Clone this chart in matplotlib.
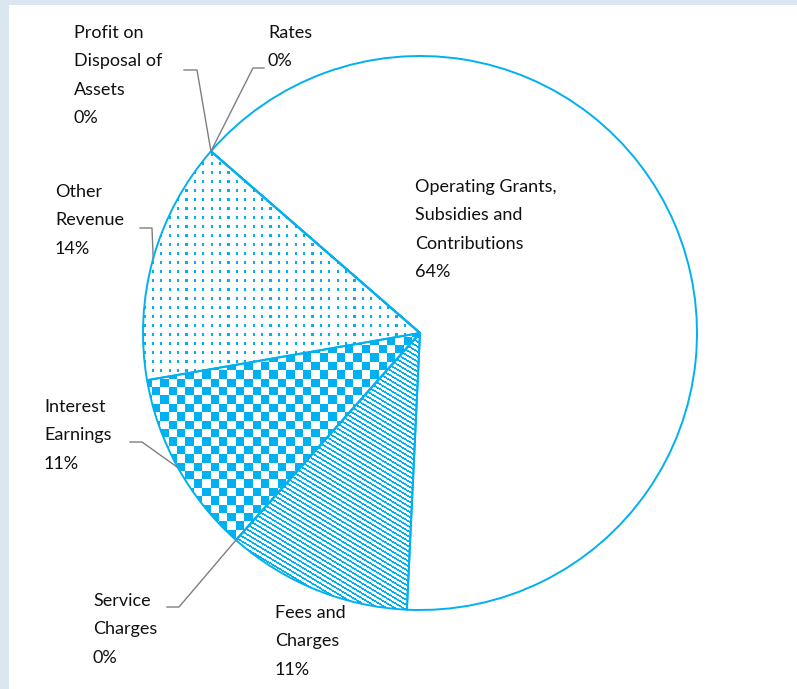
import numpy as np
import matplotlib
matplotlib.use('Agg')
import matplotlib.pyplot as plt
from matplotlib.patches import Rectangle

W, H = 797, 689
BLUE = '#00b0f0'
GREY = '#7f7f7f'

# revenue split, clockwise from the first slice
categories = ['Operating Grants,\nSubsidies and\nContributions', 'Fees and\nCharges',
              'Service\nCharges', 'Interest\nEarnings', 'Other\nRevenue',
              'Profit on\nDisposal of\nAssets', 'Rates']
shares = [64.3, 10.8, 0.0, 10.7, 14.1, 0.0, 0.0]
patterns = ['none', 'diag', 'none', 'checker', 'dots', 'none', 'none']

# label placement in image pixels (left x, y of first line centre)
label_xy = [(415, 186), (275, 612), (93, 600), (44, 406), (55, 191), (74, 32), (268, 32)]
# leader lines: text-side start and elbow (image pixels); None = no leader
leaders = [None, None, [(167, 607), (179, 607)], [(130, 442), (142, 442)],
           [(140, 228), (152, 228)], [(184, 70), (197, 70)], [(264, 68), (253, 68)]]

cx, cy, r = 420, H - 333, 277


def img2d(p):
    return p[0], H - p[1]


fig = plt.figure(figsize=(W / 100, H / 100), dpi=100)
fig.patch.set_facecolor('#dce6f0')
ax = fig.add_axes([0, 0, 1, 1])
ax.add_patch(Rectangle((9, 0), W - 9, H - 5, facecolor='white', edgecolor='none', zorder=0))

faces = ['white' if p == 'none' else 'none' for p in patterns]
wedges, _ = ax.pie(shares, startangle=139, counterclock=False, center=(cx, cy), radius=r,
                   colors=faces, frame=True,
                   wedgeprops=dict(edgecolor=BLUE, linewidth=1.4, zorder=2))
ax.set_xlim(0, W)
ax.set_ylim(0, H)
ax.set_aspect('equal')
ax.axis('off')

# fill patterns drawn as pixel images clipped to the wedges
yy, xx = np.mgrid[0:H, 0:W]
blue_rgb = np.array([0, 176, 240]) / 255
masks = {
    'checker': ((xx // 8.4).astype(int) + (yy // 8.4).astype(int)) % 2 == 0,
    'dots': ((xx % 8.4) < 2.3) & ((yy % 9.0) < 2.3),
    'diag': ((yy - 0.6 * xx) % 5.0) < 2.0,
}
for w, p in zip(wedges, patterns):
    if p == 'none':
        continue
    img = np.ones((H, W, 4))
    img[masks[p], :3] = blue_rgb
    im = ax.imshow(img, extent=(0, W, 0, H), origin='upper', interpolation='nearest', zorder=1)
    im.set_clip_path(w)

ax.set_xlim(0, W)
ax.set_ylim(0, H)

total = sum(shares)
for w, name, val, (lx, ly), lead in zip(wedges, categories, shares, label_xy, leaders):
    text = f"{name}\n{round(val / total * 100)}%"
    ax.text(lx, H - ly + 7, text, ha='left', va='top', fontsize=13, family='Lato',
            color='#111111', linespacing=1.95, zorder=5)
    if lead is not None:
        ang = np.deg2rad((w.theta1 + w.theta2) / 2)
        end = (w.center[0] + r * np.cos(ang), w.center[1] + r * np.sin(ang))
        pts = [img2d(p) for p in lead] + [end]
        ax.plot([p[0] for p in pts], [p[1] for p in pts], color=GREY, lw=1.0, zorder=4)

fig.savefig('out.png', dpi=100)
